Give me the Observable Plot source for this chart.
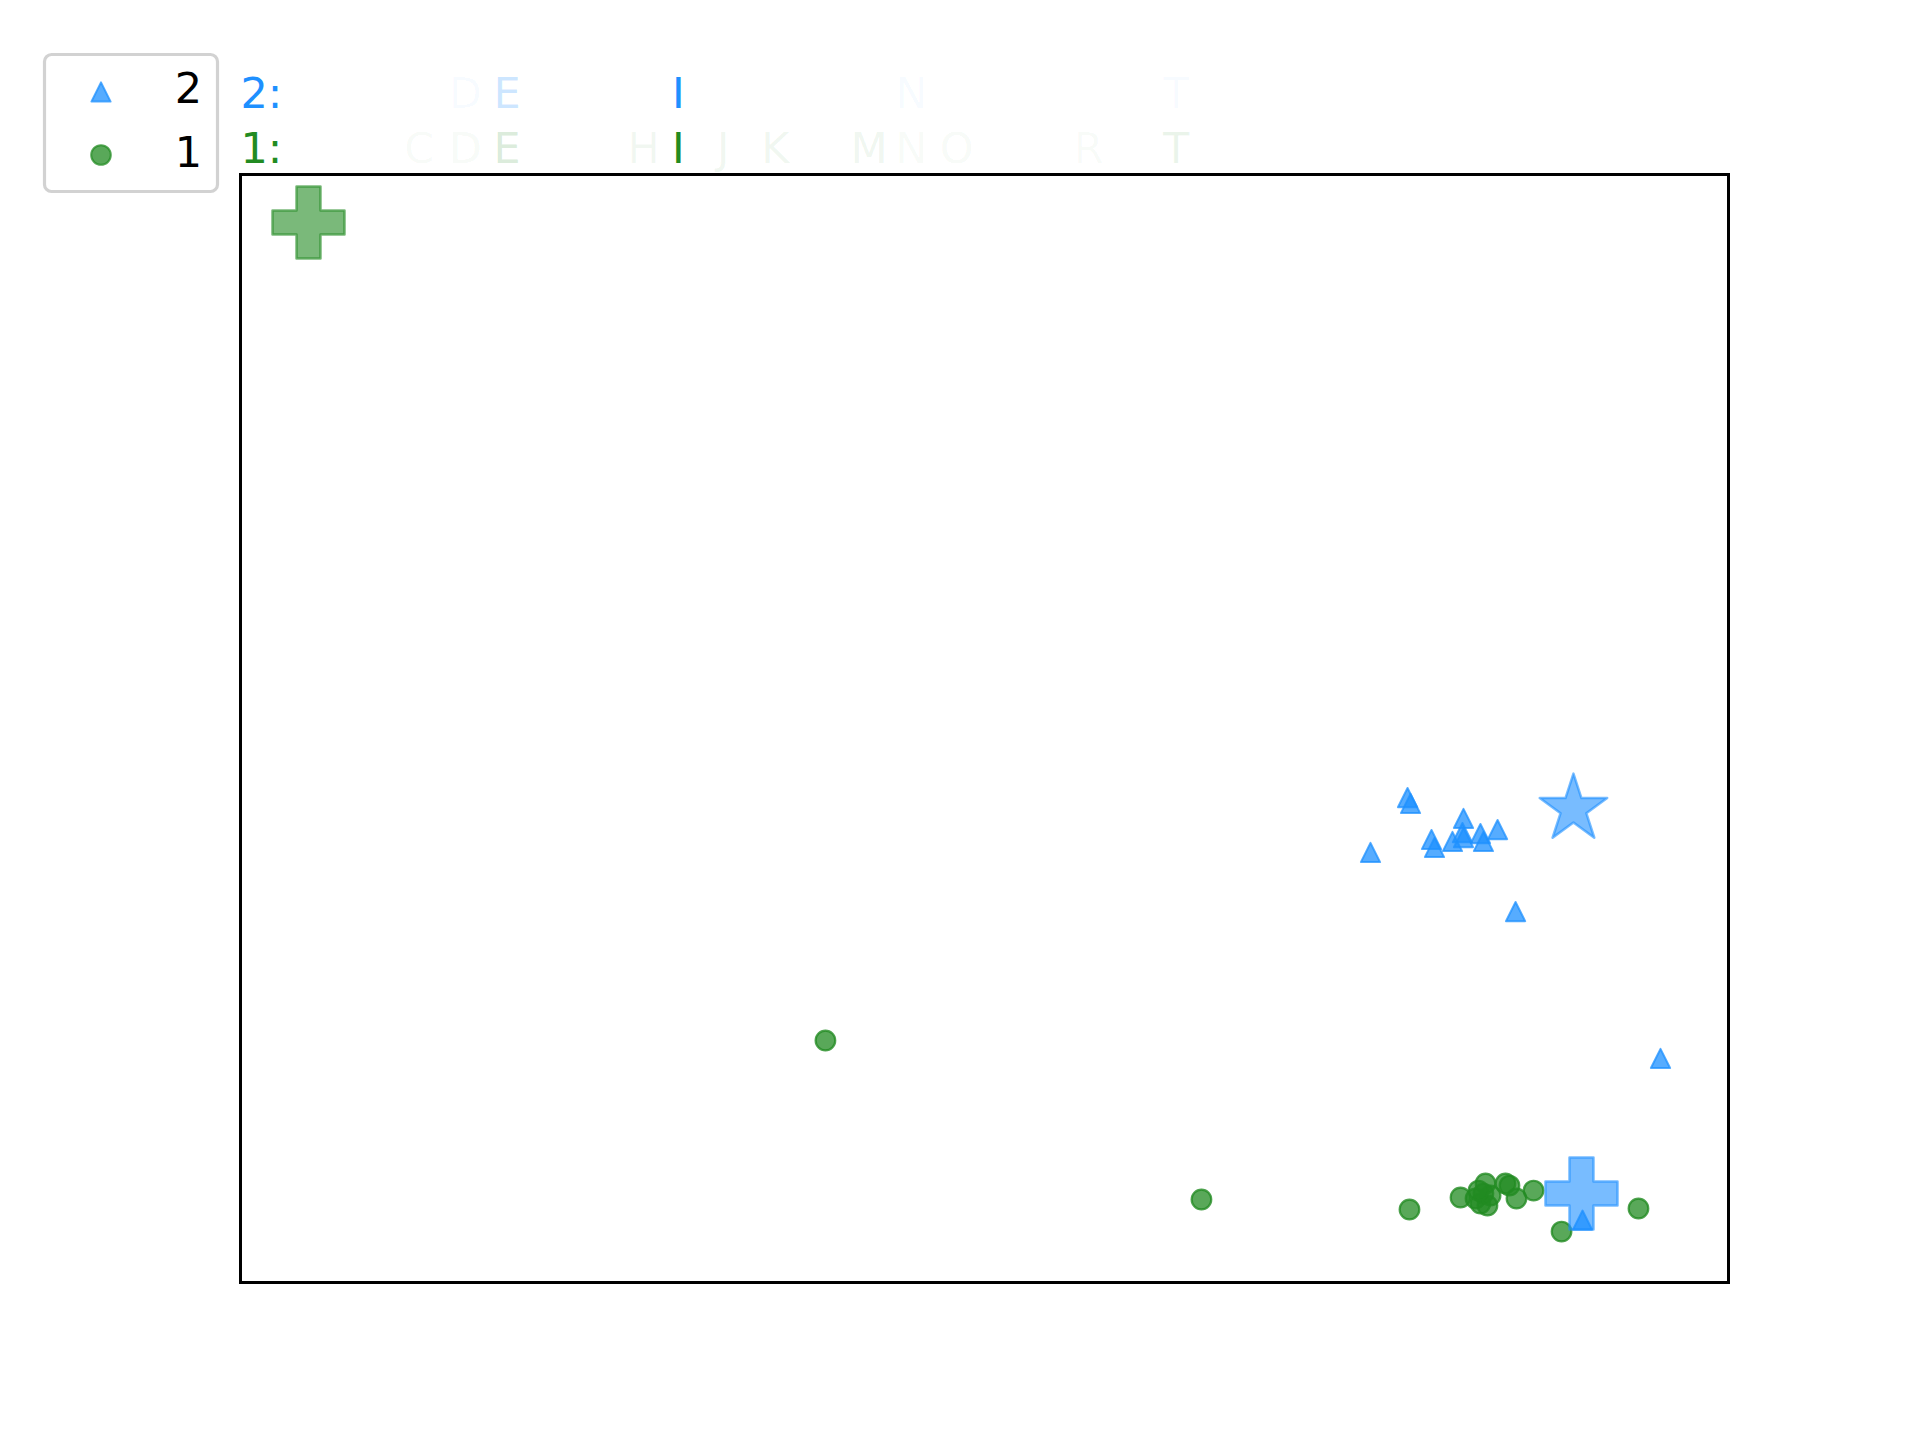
<!DOCTYPE html>
<html>
<head>
<meta charset="utf-8">
<script src="https://cdn.jsdelivr.net/npm/d3@7"></script>
<script src="https://cdn.jsdelivr.net/npm/@observablehq/plot@0.6"></script>
<style>
  html, body { margin: 0; padding: 0; background: #fff; }
  #wrap { position: relative; width: 1920px; height: 1440px; }
</style>
</head>
<body>
<div id="wrap"></div>
<script>
// ---------- data ----------
const letters = "ABCDEFGHIJKLMNOPQRST".split("");
const alpha1 = [0, 0, 0.04, 0.05, 0.17, 0, 0, 0.06, 1, 0.07, 0.07, 0, 0.08, 0.04, 0.05, 0, 0, 0.03, 0, 0.09];
const alpha2 = [0, 0, 0.01, 0.03, 0.22, 0, 0, 0.02, 1, 0, 0.01, 0.02, 0.025, 0.045, 0, 0.02, 0, 0.02, 0, 0.03];
const groupLabels = ["2", "1"];

// group 2 (triangles)
const tri2X = [78.43, 78.63, 75.94, 80.04, 80.24, 81.45, 82.19, 82.12, 82.19, 83.33, 83.53, 84.48, 85.69, 95.43, 90.19];
const tri2Y = [43.77, 43.23, 38.81, 39.98, 39.26, 39.80, 41.88, 40.61, 40.16, 40.52, 39.80, 40.88, 33.48, 20.22, 5.63];
// group 1 (circles)
const circ1X = [78.56, 81.99, 83.00, 83.33, 83.67, 83.53, 83.80, 84.01, 83.20, 85.01, 85.28, 85.75, 86.90, 88.78, 93.95, 39.31, 64.58];
const circ1Y = [6.59, 7.67, 7.58, 7.13, 8.94, 8.03, 6.95, 7.85, 8.30, 8.94, 8.75, 7.58, 8.30, 4.60, 6.68, 21.84, 7.49];
// special markers
const star2X = [89.58], star2Y = [42.73];
const cross2X = [90.12], cross2Y = [8.03];
const cross1X = [4.57], cross1Y = [95.67];

// ---------- helpers ----------
const BLUE = "#1E90FF", GREEN = "#228B22";
const FONT = "DejaVu Sans";
const mplTriangle = {
  draw(ctx, size) {
    const s = Math.sqrt(size / Math.PI);
    ctx.moveTo(0, -s); ctx.lineTo(s, s); ctx.lineTo(-s, s); ctx.closePath();
  }
};
const pts = (xs, ys) => xs.map((x, i) => ({x, y: ys[i]}));
const row = (alphas) => letters.map((l, i) => ({letter: l, pos: 5 + 3 * i, alpha: alphas[i]}));

const chart = Plot.plot({
  width: 1920, height: 1440,
  marginLeft: 240, marginRight: 192, marginTop: 174, marginBottom: 158,
  x: {domain: [0, 100], axis: null},
  y: {domain: [0, 100], axis: null},
  style: {background: "white", fontFamily: FONT},
  marks: [
    Plot.dot(pts(tri2X, tri2Y), {x: "x", y: "y", symbol: mplTriangle, r: 9.6,
      fill: BLUE, fillOpacity: 0.75, stroke: BLUE, strokeOpacity: 0.75, strokeWidth: 2, strokeLinejoin: "round"}),
    Plot.dot(pts(circ1X, circ1Y), {x: "x", y: "y", symbol: "circle", r: 9.8,
      fill: GREEN, fillOpacity: 0.75, stroke: GREEN, strokeOpacity: 0.8, strokeWidth: 2.2}),
    Plot.dot(pts(star2X, star2Y), {x: "x", y: "y", symbol: "star", r: 21.2,
      fill: BLUE, fillOpacity: 0.6, stroke: BLUE, strokeOpacity: 0.6, strokeWidth: 2.5, strokeLinejoin: "round"}),
    Plot.dot(pts(cross2X, cross2Y), {x: "x", y: "y", symbol: "cross", r: 30.3,
      fill: BLUE, fillOpacity: 0.6, stroke: BLUE, strokeOpacity: 0.6, strokeWidth: 2.5, strokeLinejoin: "round"}),
    Plot.dot(pts(cross1X, cross1Y), {x: "x", y: "y", symbol: "cross", r: 30.3,
      fill: GREEN, fillOpacity: 0.6, stroke: GREEN, strokeOpacity: 0.6, strokeWidth: 2.5, strokeLinejoin: "round"}),
    // sequence rows
    Plot.text([groupLabels[0] + ":"], {x: 0, y: 106, text: d => d, fill: BLUE,
      textAnchor: "start", lineAnchor: "bottom", fontSize: 43}),
    Plot.text([groupLabels[1] + ":"], {x: 0, y: 101, text: d => d, fill: GREEN,
      textAnchor: "start", lineAnchor: "bottom", fontSize: 43}),
    Plot.text(row(alpha2), {x: "pos", y: 106, text: "letter", fill: BLUE, fillOpacity: "alpha",
      textAnchor: "start", lineAnchor: "bottom", fontSize: 43}),
    Plot.text(row(alpha1), {x: "pos", y: 101, text: "letter", fill: GREEN, fillOpacity: "alpha",
      textAnchor: "start", lineAnchor: "bottom", fontSize: 43}),
    Plot.frame({stroke: "black", strokeWidth: 3})
  ]
});
const wrap = document.getElementById("wrap");
wrap.appendChild(chart);

// ---------- legend ----------
const leg = d3.create("svg")
  .attr("width", 182).attr("height", 146)
  .style("position", "absolute").style("left", "41px").style("top", "51px");
leg.append("rect").attr("x", 3.5).attr("y", 3.5).attr("width", 173).attr("height", 137)
  .attr("rx", 7).attr("fill", "white").attr("stroke", "#d2d2d2").attr("stroke-width", 3.2);
const legendItems = [
  {label: groupLabels[0], type: mplTriangle, r: 9.6, color: BLUE},
  {label: groupLabels[1], type: d3.symbolCircle, r: 9.8, color: GREEN}
];
legendItems.forEach((d, i) => {
  const cy = 41 + i * 63;
  leg.append("path")
    .attr("d", d3.symbol().type(d.type).size(Math.PI * d.r * d.r)())
    .attr("transform", `translate(60,${cy})`)
    .attr("fill", d.color).attr("fill-opacity", 0.75)
    .attr("stroke", d.color).attr("stroke-opacity", 0.75).attr("stroke-width", 2)
    .attr("stroke-linejoin", "round");
  leg.append("text").attr("x", 161).attr("y", 52 + i * 64)
    .attr("text-anchor", "end").attr("font-family", FONT).attr("font-size", 43)
    .attr("fill", "black").text(d.label);
});
wrap.appendChild(leg.node());
</script>
</body>
</html>
